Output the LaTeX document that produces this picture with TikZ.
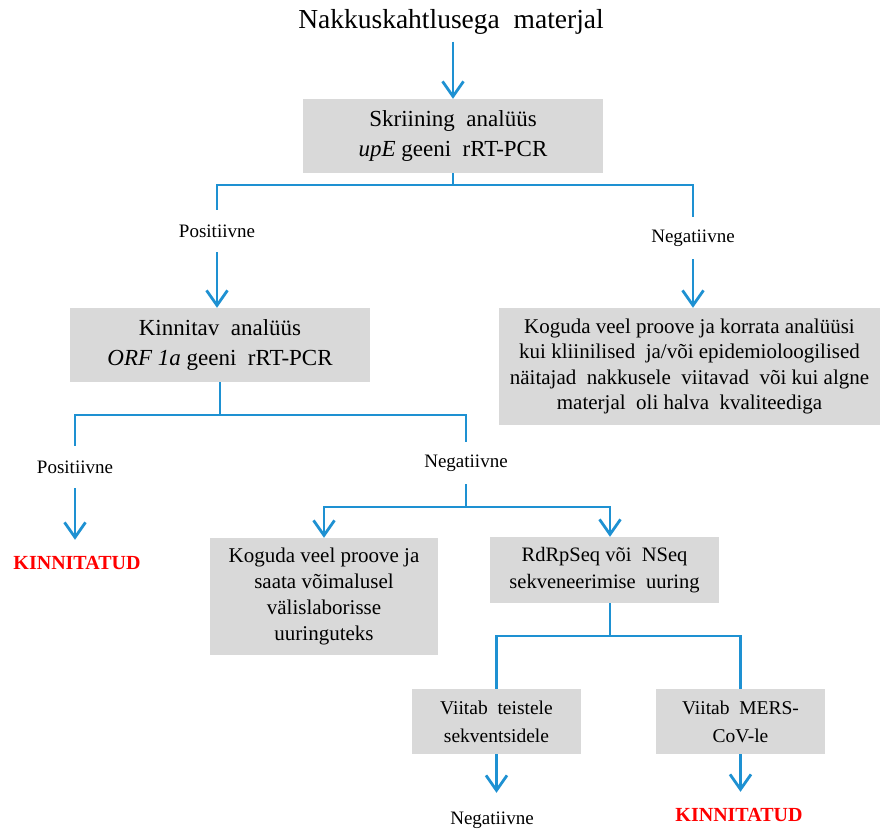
\documentclass[tikz,border=0pt]{standalone}
\usepackage{fontspec}
\setmainfont{Liberation Serif}
\newfontfamily\flowfont{Liberation Serif}
\usetikzlibrary{arrows.meta}
\definecolor{flowblue}{RGB}{30,145,210}
\definecolor{boxgray}{RGB}{217,217,217}

\begin{document}
\begin{tikzpicture}[x=1pt,y=-1pt,
  box/.style={fill=boxgray,align=center,inner sep=0pt},
  lbl/.style={font=\flowfont\fontsize{19}{19}\selectfont,minimum height=42pt,inner sep=0pt},
  ok/.style={text=red,font=\flowfont\fontsize{20}{20}\selectfont\bfseries,minimum height=46pt,inner sep=0pt},
  link/.style={draw=flowblue,line width=2.8pt},
  arr/.style={link,-{Straight Barb[length=15pt,width=21pt]}}]
\useasboundingbox (0,0) rectangle (881,836);

\node[inner sep=0pt,font=\flowfont\fontsize{27.5}{27.5}\selectfont] (title) at (451,22) {Nakkuskahtlusega\ \ materjal};

\node[box,minimum width=300pt,minimum height=74pt,font=\flowfont\fontsize{23}{30}\selectfont] (screen) at (453,136) {Skriining\ \ analüüs\\\textit{upE} geeni\ \ rRT-PCR};
\node[lbl] (pos1) at (217,231) {Positiivne};
\node[lbl] (neg1) at (693,238) {Negatiivne};

\node[box,minimum width=300pt,minimum height=74pt,font=\flowfont\fontsize{23}{30}\selectfont] (confirm) at (220,345) {Kinnitav\ \ analüüs\\\textit{ORF 1a} geeni\ \ rRT-PCR};
\node[box,minimum width=381pt,minimum height=117pt,font=\flowfont\fontsize{21}{25.3}\selectfont] (retry) at (689.5,366.5) {Koguda veel proove ja korrata analüüsi\\kui kliinilised\ \ ja/või epidemioloogilised\\näitajad\ \ nakkusele\ \ viitavad\ \ või kui algne\\materjal\ \ oli halva\ \ kvaliteediga};

\node[lbl] (pos2) at (75,467) {Positiivne};
\node[lbl] (neg2) at (466,463) {Negatiivne};
\node[ok] (ok1) at (77,563) {KINNITATUD};

\node[box,minimum width=228pt,minimum height=117pt,font=\flowfont\fontsize{21}{25.7}\selectfont] (collect) at (324,596.5) {Koguda veel proove ja\\saata võimalusel\\välislaborisse\\uuringuteks};
\node[box,minimum width=229pt,minimum height=66pt,font=\flowfont\fontsize{20.5}{27}\selectfont] (seq) at (604.5,570) {RdRpSeq või\ \ NSeq\\sekveneerimise\ \ uuring};

\node[box,minimum width=169pt,minimum height=65pt,font=\flowfont\fontsize{19.5}{28}\selectfont] (other) at (496.5,721.5) {Viitab\ \ teistele\\sekventsidele};
\node[box,minimum width=169pt,minimum height=65pt,font=\flowfont\fontsize{19.5}{28}\selectfont] (mers) at (740.5,721.5) {Viitab\ \ MERS-\\CoV-le};
\node[lbl,minimum height=54pt] (neg3) at (492,820) {Negatiivne};
\node[ok] (ok2) at (739,815) {KINNITATUD};

\coordinate (split1) at (453,185);
\coordinate (split2) at (220,415);
\coordinate (split3) at (466,507);
\coordinate (split4) at (610,636);

\draw[arr,shorten <=7pt] (title.south -| screen.north) -- (screen.north);

\draw[link] (screen.south) -- (split1);
\draw[link] (pos1.north) |- (split1) -| (neg1.north);
\draw[arr] (pos1.south) -- (pos1.south |- confirm.north);
\draw[arr] (neg1.south) -- (neg1.south |- retry.north);

\draw[link] (confirm.south) -- (split2);
\draw[link] (pos2.north) |- (split2) -| (neg2.north);
\draw[arr] (pos2.south) -- (pos2.south |- ok1.north);

\draw[link] (neg2.south) -- (split3);
\draw[arr] (split3) -| (collect.north);
\draw[arr] (split3) -| ([xshift=5.5pt]seq.north);

\draw[link] ([xshift=5.5pt]seq.south) -- (split4);
\draw[link] (other.north) |- (split4) -| (mers.north);
\draw[arr] (other.south) -- (other.south |- neg3.north);
\draw[arr] (mers.south) -- (mers.south |- ok2.north);

\end{tikzpicture}
\end{document}
